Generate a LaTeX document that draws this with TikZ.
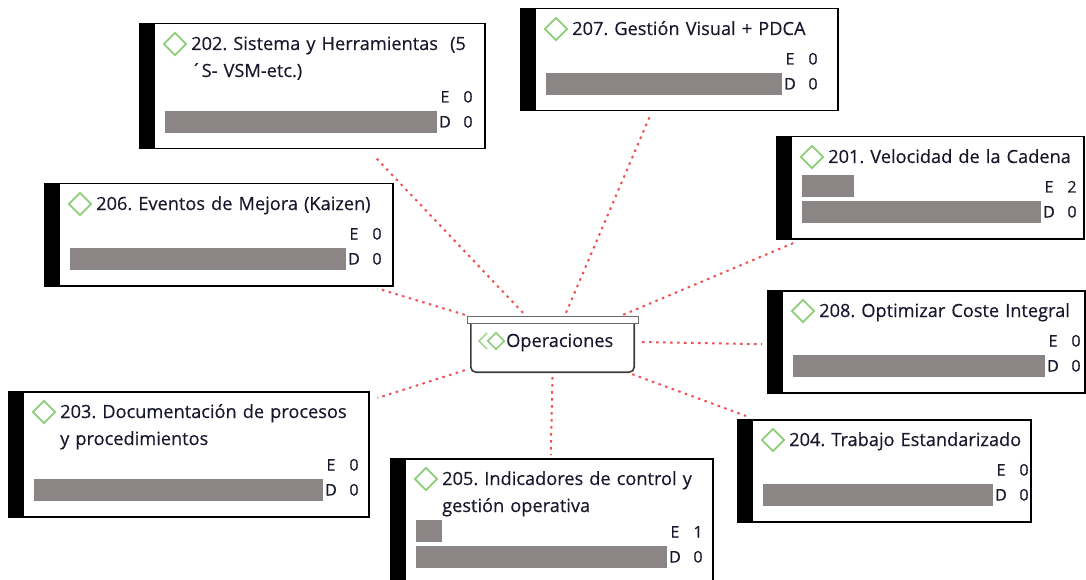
\documentclass[tikz,border=0pt]{standalone}
\usepackage{fontspec}
\setmainfont{Open Sans}[FakeBold=0.4]
\frenchspacing
\usetikzlibrary{shapes.geometric}
\definecolor{texto}{RGB}{25,25,45}
\definecolor{gris}{RGB}{139,133,133}
\definecolor{verde}{RGB}{140,205,120}
\definecolor{rojo}{RGB}{240,80,85}
\definecolor{cuerpo}{RGB}{60,60,60}
\tikzset{
  tarjeta/.style={draw, line width=1.5pt, inner sep=0pt},
  barra/.style={fill=gris},
  rombo/.style={diamond, draw=verde, line width=1.8pt, minimum size=23pt, inner sep=0pt},
  titulo/.style={text=texto, font=\fontsize{18.2}{27}\selectfont, text width=320pt, align=left, inner sep=0pt, anchor=base west},
  cifra/.style={text=texto, font=\fontsize{16}{18}\selectfont, inner sep=0pt, anchor=base},
  enlace/.style={draw=rojo, line width=2pt, dash pattern=on 2.5pt off 4.5pt},
}
% #1 nombre, #2 x, #3 y, #4 ancho, #5 fila barra, #6 titulo, #7 fin barra, #8 valor E
\newcommand{\tarjeta}[8]{%
  \node[tarjeta, minimum width=#4, minimum height=#5+37, anchor=north west] (#1) at (#2,#3) {};
  \fill (#1.north west) rectangle ([shift={(16,0)}]#1.south west);
  \node[rombo] (#1-r) at ([shift={(36,21)}]#1.north west) {};
  \node[titulo] (#1-t) at ([shift={(52,27)}]#1.north west) {#6};
  \ifnum#8>0 \fill[barra] ([shift={(26,#5-26)}]#1.north west) rectangle ++(#8*26,22);\fi
  \fill[barra] ([shift={(26,#5)}]#1.north west) rectangle ([shift={(#7,#5+22)}]#1.north west);
  \node[cifra] (#1-e) at ([shift={(#7+8,#5-8.5)}]#1.north west) {E};
  \node[cifra] (#1-ev) at ([shift={(#7+31,#5-8.5)}]#1.north west) {#8};
  \node[cifra] (#1-d) at ([shift={(#7+8,#5+16.5)}]#1.north west) {D};
  \node[cifra] (#1-dv) at ([shift={(#7+31,#5+16.5)}]#1.north west) {0};
}

\begin{document}
\begin{tikzpicture}[x=1pt, y=-1pt]
  \useasboundingbox (0,0) rectangle (1086,580);
  \clip (0,0) rectangle (1086,580);

  \tarjeta{b202}{139}{23}{345}{88}{202. Sistema y Herramientas~ (5\\´S- VSM-etc.)}{298}{0}
  \tarjeta{b207}{520}{8}{317}{65}{207. Gestión Visual + PDCA}{262}{0}
  \tarjeta{b201}{776}{136}{307}{65}{201. Velocidad de la Cadena}{265}{2}
  \tarjeta{b206}{44}{183}{348}{65}{206. Eventos de Mejora (Kaizen)}{302}{0}
  \tarjeta{b208}{767}{290}{317}{65}{208. Optimizar Coste Integral}{278}{0}
  \tarjeta{b203}{8}{391}{360}{88}{203. Documentación de procesos\\y procedimientos}{315}{0}
  \tarjeta{b205}{390}{458}{322}{88}{205. Indicadores de control y\\gestión operativa}{277}{1}
  \tarjeta{b204}{737}{419}{293}{65}{204. Trabajo Estandarizado}{256}{0}

  % nodo central
  \node[minimum width=163, minimum height=48, inner sep=0pt] (ops) at (552.5,348) {};
  \draw[draw=cuerpo, line width=1.6pt, rounded corners=5pt] (ops.north west) -- (ops.south west) -- (ops.south east) -- (ops.north east);
  \draw[draw=gris!80!black, line width=1.2pt, fill=white] ([shift={(-3,-7)}]ops.north west) rectangle ([shift={(4,0)}]ops.north east);
  \draw[verde!80, line width=1.6pt] (487,333) -- (479,341) -- (487,349);
  \node[rombo, minimum size=17pt, line width=1.6pt] (ops-r) at (496,341) {};
  \node[titulo, text width=] (ops-t) at (506,347) {Operaciones};

  \draw[enlace] ([shift={(-29.5,-11)}]ops.north) -- ([shift={(61.5,6)}]b202.south);
  \draw[enlace] ([shift={(13.5,-11)}]ops.north) -- ([shift={(-29.5,5)}]b207.south);
  \draw[enlace] ([shift={(-11,-9)}]ops.north east) -- ([shift={(21,2)}]b201.south west);
  \draw[enlace] ([shift={(-6,-9)}]ops.north west) -- ([shift={(-16,2)}]b206.south east);
  \draw[enlace] ([shift={(8,-6)}]ops.east) -- ([shift={(-5,2.5)}]b208.west);
  \draw[enlace] ([shift={(-2,2)}]ops.south east) -- ([shift={(9,-3)}]b204.north west);
  \draw[enlace] ([shift={(0,5)}]ops.south) -- ([shift={(-1,-3)}]b205.north);
  \draw[enlace] ([shift={(-6,-2)}]ops.south west) -- ([shift={(8,7)}]b203.north east);
\end{tikzpicture}
\end{document}
